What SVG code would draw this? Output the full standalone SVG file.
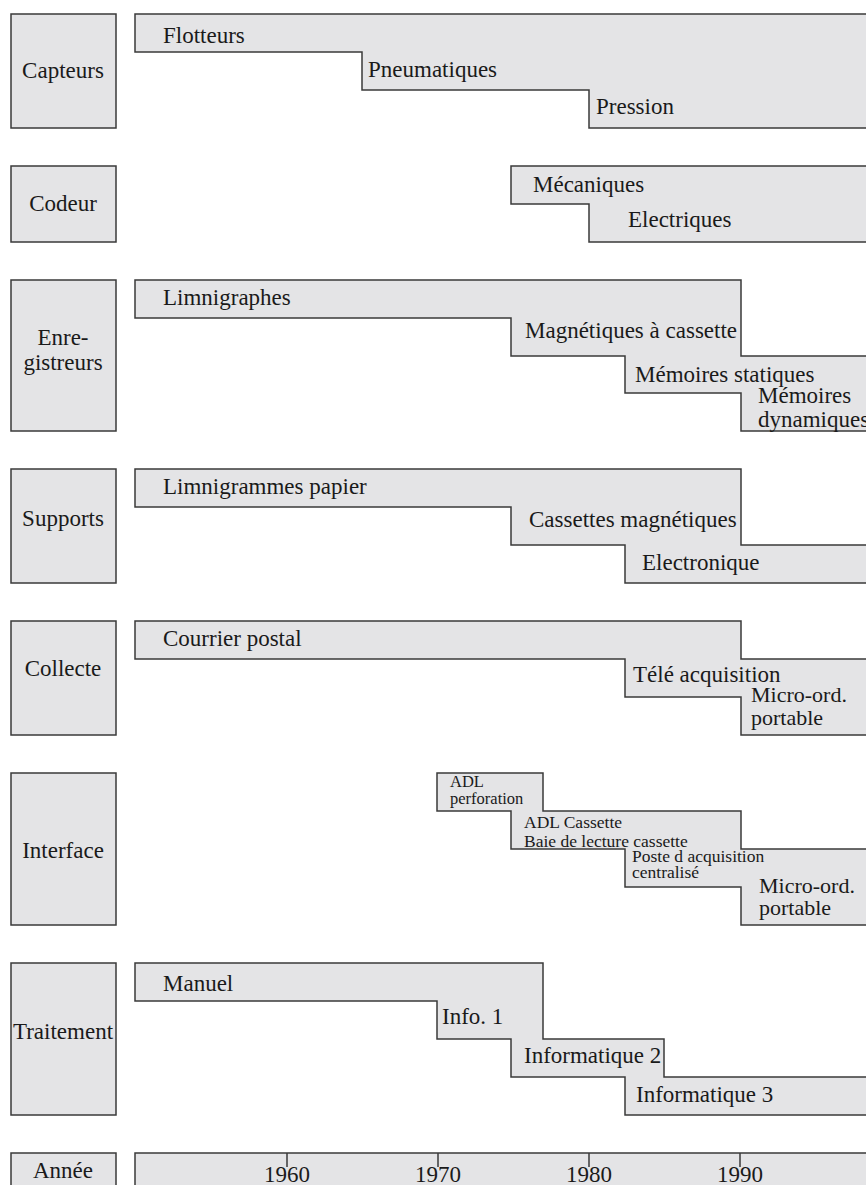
<svg xmlns="http://www.w3.org/2000/svg" width="866" height="1185" viewBox="0 0 866 1185" font-family="'Liberation Serif', 'DejaVu Serif', serif">
<style>
.b{fill:#e4e4e6;stroke:#3a3a3a;stroke-width:1.5}
text{font-family:'Liberation Serif','DejaVu Serif',serif;fill:#1a1a1a;font-size:23px}
.c{text-anchor:middle}
.m{font-size:22px}
.s{font-size:17.5px}
.xs{font-size:16.5px}
.tk{stroke:#3a3a3a;stroke-width:1.5}
</style>
<rect width="866" height="1185" fill="#fff"/>
<g id="capteurs">
<rect class="b" x="11" y="14" width="105" height="114"/>
<text class="c" x="63" y="78">Capteurs</text>
<path class="b" d="M135,14 H870 V128 H589 V90 H362 V52 H135 Z"/>
<text x="163" y="43">Flotteurs</text>
<text x="368" y="77">Pneumatiques</text>
<text x="596" y="114">Pression</text>
</g>
<g id="codeur">
<rect class="b" x="11" y="166" width="105" height="76"/>
<text class="c" x="63" y="211">Codeur</text>
<path class="b" d="M511,166 H870 V242 H589 V204 H511 Z"/>
<text x="533" y="192">Mécaniques</text>
<text x="628" y="227">Electriques</text>
</g>
<g id="enregistreurs">
<rect class="b" x="11" y="280" width="105" height="151"/>
<text class="c" x="63" y="345">Enre-</text>
<text class="c" x="63" y="370">gistreurs</text>
<path class="b" d="M135,280 H741 V356 H870 V431 H741 V393 H625 V356 H511 V318 H135 Z"/>
<text x="163" y="305">Limnigraphes</text>
<text x="525" y="338">Magnétiques à cassette</text>
<text x="635" y="382">Mémoires statiques</text>
<text x="758" y="403">Mémoires</text>
<text x="758" y="427">dynamiques</text>
</g>
<g id="supports">
<rect class="b" x="11" y="469" width="105" height="114"/>
<text class="c" x="63" y="526">Supports</text>
<path class="b" d="M135,469 H741 V545 H870 V583 H625 V545 H511 V507 H135 Z"/>
<text x="163" y="494">Limnigrammes papier</text>
<text x="529" y="527">Cassettes magnétiques</text>
<text x="642" y="570">Electronique</text>
</g>
<g id="collecte">
<rect class="b" x="11" y="621" width="105" height="114"/>
<text class="c" x="63" y="676">Collecte</text>
<path class="b" d="M135,621 H741 V659 H870 V735 H741 V697 H625 V659 H135 Z"/>
<text x="163" y="646">Courrier postal</text>
<text x="633" y="682">Télé acquisition</text>
<text class="m" x="751" y="702">Micro-ord.</text>
<text class="m" x="751" y="725">portable</text>
</g>
<g id="interface">
<rect class="b" x="11" y="773" width="105" height="152"/>
<text class="c" x="63" y="858">Interface</text>
<path class="b" d="M437,773 H543 V811 H741 V849 H870 V925 H741 V887 H625 V849 H511 V811 H437 Z"/>
<text class="xs" x="450" y="787">ADL</text>
<text class="xs" x="450" y="804">perforation</text>
<text class="s" x="524" y="828">ADL Cassette</text>
<text class="s" x="524" y="847">Baie de lecture cassette</text>
<text class="s" x="632" y="862">Poste d acquisition</text>
<text class="s" x="632" y="878">centralisé</text>
<text class="m" x="759" y="893">Micro-ord.</text>
<text class="m" x="759" y="915">portable</text>
</g>
<g id="traitement">
<rect class="b" x="11" y="963" width="105" height="152"/>
<text class="c" x="63" y="1039">Traitement</text>
<path class="b" d="M135,963 H543 V1039 H664 V1077 H870 V1115 H625 V1077 H511 V1039 H437 V1001 H135 Z"/>
<text x="163" y="991">Manuel</text>
<text x="442" y="1024">Info. 1</text>
<text x="524" y="1063">Informatique 2</text>
<text x="636" y="1102">Informatique 3</text>
</g>
<g id="annee">
<rect class="b" x="11" y="1153" width="105" height="45"/>
<text class="c" x="63" y="1178">Année</text>
<rect class="b" x="135" y="1153" width="740" height="45"/>
<line class="tk" x1="287" y1="1153" x2="287" y2="1167"/>
<line class="tk" x1="438" y1="1153" x2="438" y2="1167"/>
<line class="tk" x1="589" y1="1153" x2="589" y2="1167"/>
<line class="tk" x1="740" y1="1153" x2="740" y2="1167"/>
<text class="c" x="287" y="1182">1960</text>
<text class="c" x="438" y="1182">1970</text>
<text class="c" x="589" y="1182">1980</text>
<text class="c" x="740" y="1182">1990</text>
</g>
<g id="connectors"/>
</svg>
